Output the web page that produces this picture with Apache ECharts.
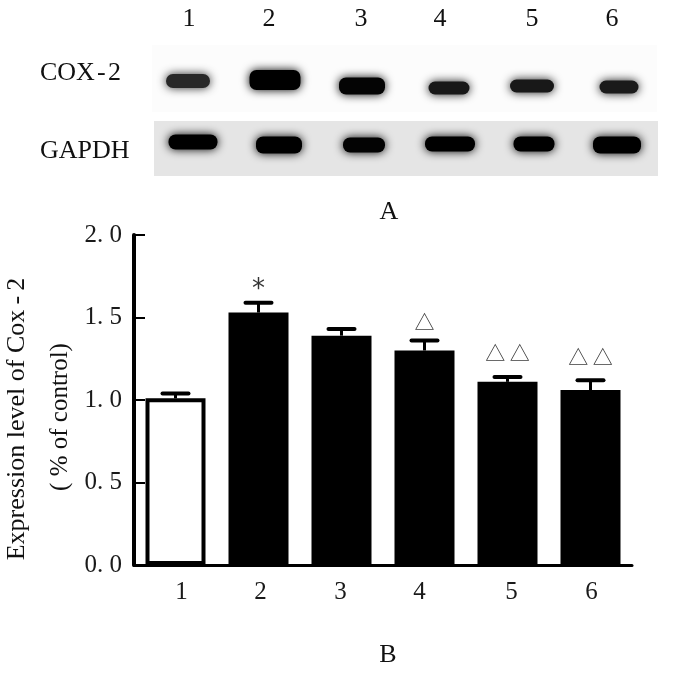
<!DOCTYPE html>
<html>
<head>
<meta charset="utf-8">
<style>
  html, body { margin: 0; padding: 0; background: #fff; }
  #chart { width: 700px; height: 678px; }
</style>
<script src="https://cdn.jsdelivr.net/npm/echarts@6/dist/echarts.min.js"></script>
</head>
<body>
<div id="chart"></div>
<script>
// panel B
var categories = ["1", "2", "3", "4", "5", "6"];
var expression = [1.01, 1.53, 1.39, 1.3, 1.11, 1.06];
var errorTop = [1.04, 1.59, 1.43, 1.36, 1.14, 1.12];
var marks = ["", "*", "", "△", "△ △", "△ △"];
var yTicks = ["0. 0", "0. 5", "1. 0", "1. 5", "2. 0"];

var coxLane = [36, 123, 210, 297, 380, 467];
var coxRow = [36, 35, 41, 43, 41, 42];
var coxWidth = [50, 57, 52, 47, 50, 45];
var coxHeight = [20, 26, 23, 19, 19, 19];
var coxDark = [0.7, 1, 0.97, 0.82, 0.82, 0.8];
var gapdhLane = [41, 127, 212, 298, 382, 465];
var gapdhRow = [97, 100, 100, 99, 99, 100];
var gapdhWidth = [55, 52, 48, 56, 47, 54];
var gapdhHeight = [21, 23, 21, 21, 21, 23];
var gapdhDark = [1, 1, 0.98, 1, 1, 1];

var serif = '"Liberation Serif", serif';
var blotLabelX = [189, 269, 361, 440, 532, 612];
var barLabelNudge = [6, 2, -1, -5, 4, 1];
var markGap = [0, -1, 0, 8, 13, 12];

function blotData(lane, row, width, height, dark) {
  return lane.map(function (x, i) { return [x, row[i], width[i], height[i], dark[i]]; });
}

function renderBand(params, api) {
  var c = api.coord([api.value(0), api.value(1)]);
  var s = api.size([api.value(2), api.value(3)]);
  var g = Math.round(60 * (1 - api.value(4)) * 2.2);
  var col = "rgb(" + g + "," + g + "," + g + ")";
  return {
    type: "rect",
    shape: { x: c[0] - s[0] / 2 + 3, y: c[1] - s[1] / 2 + 3, width: s[0] - 6, height: s[1] - 6, r: 7 },
    style: { fill: col, shadowBlur: 10, shadowColor: col }
  };
}

function renderPanel(params, api) {
  var a = api.coord([api.value(0), api.value(1)]);
  var b = api.coord([api.value(2), api.value(3)]);
  return {
    type: "rect",
    shape: { x: a[0], y: a[1], width: b[0] - a[0], height: b[1] - a[1] },
    style: { fill: api.value(4) > 0.5 ? "#e5e5e5" : "#fcfcfc" }
  };
}

function renderError(params, api) {
  var x = api.coord([api.value(0), 0])[0];
  var low = api.coord([api.value(0), api.value(1)])[1];
  var high = api.coord([api.value(0), api.value(2)])[1];
  return {
    type: "group",
    children: [
      { type: "line", shape: { x1: x, y1: low, x2: x, y2: high }, style: { stroke: "#000", lineWidth: 3 } },
      { type: "line", shape: { x1: x - 13, y1: high, x2: x + 13, y2: high }, style: { stroke: "#000", lineWidth: 4, lineCap: "round" } }
    ]
  };
}

var rich = {};
barLabelNudge.forEach(function (n, i) {
  rich["n" + i] = {
    fontFamily: serif, fontSize: 25, color: "#1a1a1a",
    padding: [0, n < 0 ? -2 * n : 0, 0, n > 0 ? 2 * n : 0]
  };
});

var graphicText = [
  { x: 40, y: 73, text: "COX\u200a-\u200a2", align: "left" },
  { x: 40, y: 151, text: "GAPDH", align: "left" },
  { x: 389, y: 212, text: "A" },
  { x: 388, y: 655, text: "B" }
].concat(categories.map(function (c, i) {
  return { x: blotLabelX[i], y: 19, text: c };
})).map(function (t) {
  return {
    type: "text", x: t.x, y: t.y,
    style: {
      text: t.text, fontFamily: serif, fontSize: 26, fill: "#111",
      align: t.align || "center", verticalAlign: "middle"
    }
  };
});

graphicText.push(
  {
    type: "text", x: 17, y: 419, rotation: Math.PI / 2,
    style: { text: "Expression level of Cox\u2009-\u20092", fontFamily: serif, fontSize: 26, fill: "#111", align: "center", verticalAlign: "middle" }
  },
  {
    type: "text", x: 60, y: 417, rotation: Math.PI / 2,
    style: { text: "( % of control)", fontFamily: serif, fontSize: 25, fill: "#111", align: "center", verticalAlign: "middle" }
  }
);

var myChart = echarts.init(document.getElementById("chart"), null, { renderer: "canvas" });
myChart.setOption({
  animation: false,
  backgroundColor: "#fff",
  graphic: graphicText,
  grid: [
    { left: 134, top: 235, width: 498, height: 330 },
    { left: 152, top: 45, width: 506, height: 131 }
  ],
  xAxis: [
    {
      type: "category",
      data: categories,
      gridIndex: 0,
      axisLine: { lineStyle: { color: "#000", width: 3 } },
      axisTick: { alignWithLabel: true, length: 3, lineStyle: { color: "#000", width: 2 } },
      axisLabel: {
        margin: 15,
        formatter: function (v) { return "{n" + categories.indexOf(v) + "|" + v + "}"; },
        rich: rich
      }
    },
    { type: "value", gridIndex: 1, min: 0, max: 506, show: false }
  ],
  yAxis: [
    {
      type: "value",
      gridIndex: 0,
      min: 0,
      max: 2,
      interval: 0.5,
      splitLine: { show: false },
      axisLine: { show: true, onZero: false, lineStyle: { color: "#000", width: 4 } },
      axisTick: { show: true, inside: true, length: 11, lineStyle: { color: "#000", width: 2 } },
      axisLabel: {
        margin: 12,
        fontFamily: serif,
        fontSize: 25,
        color: "#1a1a1a",
        formatter: function (v) { return yTicks[Math.round(v * 2)]; }
      }
    },
    { type: "value", gridIndex: 1, min: 0, max: 131, inverse: true, show: false }
  ],
  series: [
    {
      type: "custom",
      xAxisIndex: 1,
      yAxisIndex: 1,
      renderItem: renderPanel,
      data: [[0, 0, 505, 67, 0], [2, 76, 506, 131, 1]],
      silent: true,
      z: 1
    },
    {
      type: "custom",
      xAxisIndex: 1,
      yAxisIndex: 1,
      renderItem: renderBand,
      data: blotData(coxLane, coxRow, coxWidth, coxHeight, coxDark).concat(
        blotData(gapdhLane, gapdhRow, gapdhWidth, gapdhHeight, gapdhDark)
      ),
      silent: true,
      z: 2
    },
    {
      type: "bar",
      xAxisIndex: 0,
      yAxisIndex: 0,
      barWidth: 60,
      data: expression.map(function (v, i) {
        return { value: v, itemStyle: { color: i === 0 ? "#fff" : "#000", borderColor: "#000", borderWidth: 4 } };
      }),
      z: 3
    },
    {
      type: "custom",
      xAxisIndex: 0,
      yAxisIndex: 0,
      renderItem: renderError,
      data: expression.map(function (v, i) { return [i, v, errorTop[i]]; }),
      z: 4
    },
    {
      type: "scatter",
      xAxisIndex: 0,
      yAxisIndex: 0,
      symbolSize: 1,
      itemStyle: { color: "transparent" },
      data: errorTop.map(function (v, i) {
        return {
          value: [i, v],
          label: {
            show: marks[i] !== "",
            formatter: marks[i],
            position: "top",
            distance: markGap[i],
            color: "#000",
            fontFamily: marks[i] === "*" ? '"DejaVu Sans", sans-serif' : '"Noto Sans CJK SC", "DejaVu Sans", sans-serif',
            fontSize: marks[i] === "*" ? 26 : 20
          }
        };
      }),
      z: 5
    }
  ]
});
</script>
</body>
</html>
